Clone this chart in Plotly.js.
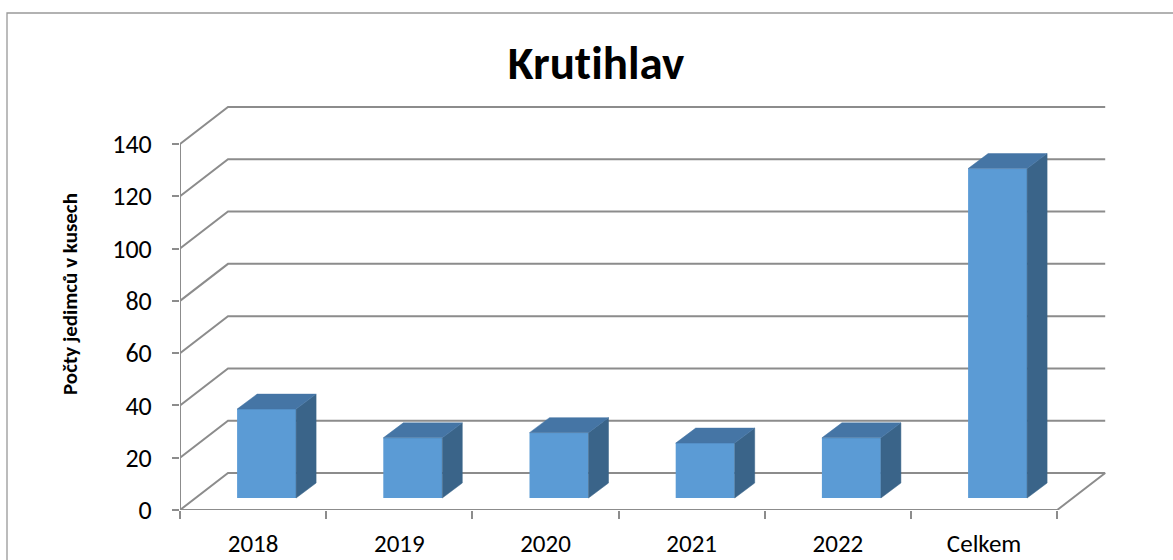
<!DOCTYPE html>
<html>
<head>
<meta charset="utf-8">
<script src="https://cdn.plot.ly/plotly-3.0.1.min.js"></script>
<style>html,body{margin:0;padding:0;background:#fff;}#chart{width:1173px;height:560px;}
svg text{font-variant-ligatures:none;font-feature-settings:"liga" 0,"clig" 0;}</style>
</head>
<body>
<div id="chart"></div>
<script>
// ---- data ----
const categories = ['2018', '2019', '2020', '2021', '2022', 'Celkem'];
const values = [34, 23, 25, 21, 23, 126];
const yTicks = [0, 20, 40, 60, 80, 100, 120, 140];
const chartTitle = 'Krutihlav';
const yTitle = 'Počty jedimců v kusech';

// ---- geometry (pixels) ----
const W = 1173, H = 560;
const plotLeft = 180, plotBottom = 510;
const catPx = 146.2;                 // width of one category slot at the front
const yMaxTick = yTicks[yTicks.length - 1];
const unitPx = 366 / yMaxTick;       // pixels per value unit
const floorDepthPx = [48, 37];       // oblique depth of floor / walls
const barFrontPx = [13.5, 12];       // bar front face offset into depth
const barDepthPx = [20, 15];         // bar depth
const barWidthPx = 59;
const plotRightPx = 1112, plotTopPx = 100;

const n = categories.length;
const xMin = -0.5;
const xMax = xMin + (plotRightPx - plotLeft) / catPx;
const yMax = (plotBottom - plotTopPx) / unitPx;
const DX = floorDepthPx[0] / catPx, DY = floorDepthPx[1] / unitPx;
const OX = barFrontPx[0] / catPx, OY = barFrontPx[1] / unitPx;
const BDX = barDepthPx[0] / catPx, BDY = barDepthPx[1] / unitPx;
const BW = barWidthPx / catPx;
const xFrontEnd = n - 0.5;

const gridColor = '#8c8c8c';
const FONT = 'Carlito, Lato, "Open Sans", sans-serif';

// ---- shapes: walls / gridlines / floor ----
const shapes = [];
yTicks.forEach(v => {
  shapes.push({
    type: 'path', xref: 'x', yref: 'y', layer: 'below',
    path: `M ${xMin},${v} L ${xMin + DX},${v + DY} L ${xFrontEnd + DX},${v + DY}`,
    line: {color: gridColor, width: 2}
  });
});
shapes.push({
  type: 'path', xref: 'x', yref: 'y', layer: 'below',
  path: `M ${xMin},0 L ${xFrontEnd},0 L ${xFrontEnd + DX},${DY}`,
  line: {color: gridColor, width: 2}
});
shapes.push({
  type: 'path', xref: 'x', yref: 'y', layer: 'below',
  path: `M ${xMin},0 L ${xMin},${yMaxTick}`,
  line: {color: gridColor, width: 2}
});
// outer chart border
const pw = plotRightPx - plotLeft, ph = plotBottom - plotTopPx;
shapes.push({
  type: 'rect', xref: 'paper', yref: 'paper', layer: 'below',
  x0: (7 - plotLeft) / pw, x1: (W + 20 - plotLeft) / pw,
  y0: (plotBottom - 13) / ph, y1: (plotBottom - (H + 20)) / ph,
  line: {color: '#999999', width: 1.3}, fillcolor: 'rgba(0,0,0,0)'
});

// ---- bar faces ----
const xs = categories.map((c, i) => i + OX);
const sideX = [], sideY = [], topX = [], topY = [];
values.forEach((v, i) => {
  const xl = i + OX - BW / 2, xr = i + OX + BW / 2;
  const b = OY, t = OY + v;
  sideX.push(xr, xr, xr + BDX, xr + BDX, xr, null);
  sideY.push(b, t, t + BDY, b + BDY, b, null);
  topX.push(xl, xr, xr + BDX, xl + BDX, xl, null);
  topY.push(t, t, t + BDY, t + BDY, t, null);
});

const traces = [
  {type: 'bar', x: xs, y: values, base: values.map(() => OY), width: BW,
   marker: {color: '#5B9BD5', line: {width: 0}}, xaxis: 'x', yaxis: 'y'},
  {type: 'scatter', mode: 'lines', x: sideX, y: sideY, fill: 'toself',
   fillcolor: '#3A6489', line: {width: 0.5, color: '#3A6489'}, connectgaps: false},
  {type: 'scatter', mode: 'lines', x: topX, y: topY, fill: 'toself',
   fillcolor: '#4575A5', line: {width: 0.5, color: '#4575A5'}, connectgaps: false},
  {type: 'scatter', mode: 'markers', x: categories.map((c, i) => i), y: values.map(() => 0),
   marker: {opacity: 0}, xaxis: 'x2', yaxis: 'y', hoverinfo: 'skip'}
];

const boundaries = [];
for (let i = 0; i <= n; i++) boundaries.push(i - 0.5);

const layout = {
  width: W, height: H,
  margin: {l: plotLeft, r: W - plotRightPx, t: plotTopPx, b: H - plotBottom, pad: 0},
  paper_bgcolor: '#ffffff', plot_bgcolor: 'rgba(0,0,0,0)',
  showlegend: false, hovermode: false,
  font: {family: FONT, color: '#000000'},
  title: {
    text: chartTitle, xref: 'container', yref: 'container',
    x: 596 / W, xanchor: 'center', y: 1 - 63 / H, yanchor: 'middle',
    font: {family: FONT, size: 47, weight: 'bold', color: '#000000'}
  },
  xaxis: {
    range: [xMin, xMax], tickmode: 'array', tickvals: boundaries,
    ticktext: boundaries.map(() => ''), ticks: 'outside', ticklen: 8,
    tickwidth: 2, tickcolor: gridColor, showgrid: false, zeroline: false,
    showline: false, automargin: false, fixedrange: true
  },
  xaxis2: {
    overlaying: 'x', side: 'bottom', range: [xMin, xMax], tickmode: 'array',
    tickvals: categories.map((c, i) => i), ticktext: categories, ticks: '',
    showgrid: false, zeroline: false, showline: false, automargin: false,
    ticklabelstandoff: 16, tickfont: {family: FONT, size: 25, color: '#000000'}
  },
  yaxis: {
    range: [0, yMax], tickmode: 'array', tickvals: yTicks, ticks: 'outside',
    ticklen: 7, tickwidth: 2, tickcolor: gridColor, showgrid: false,
    zeroline: false, showline: false, automargin: false, ticklabelstandoff: 15,
    tickfont: {family: FONT, size: 26, color: '#000000'}
  },
  shapes: shapes,
  annotations: [{
    text: yTitle, textangle: -90, showarrow: false,
    xref: 'paper', yref: 'paper',
    x: (70 - plotLeft) / pw, y: (plotBottom - 294) / ph,
    xanchor: 'center', yanchor: 'middle',
    font: {family: FONT, size: 21, weight: 'bold', color: '#000000'}
  }]
};

Plotly.newPlot('chart', traces, layout, {staticPlot: true, displayModeBar: false});
</script>
</body>
</html>
